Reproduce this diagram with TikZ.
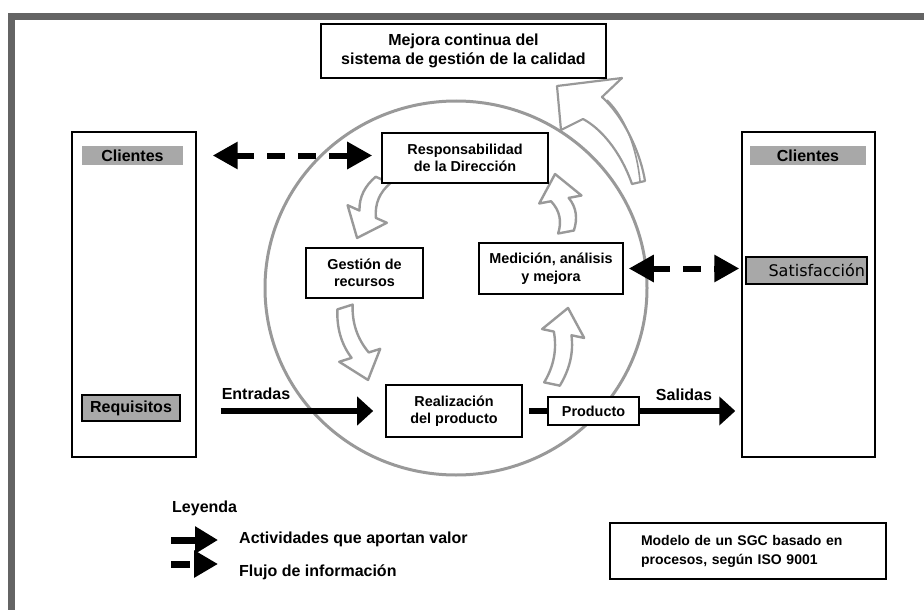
\documentclass[tikz,border=0pt]{standalone}
\usepackage{fontspec}
\setmainfont{Liberation Sans}
\newfontfamily\dejavu{DejaVu Sans}
\usetikzlibrary{arrows.meta,calc}
\definecolor{framegray}{HTML}{646464}
\definecolor{ringgray}{HTML}{999999}
\definecolor{labelgray}{HTML}{A8A8A8}

\tikzset{
  box/.style={draw=black, line width=1.6pt, fill=white, align=center,
    inner sep=0pt, font=\fontsize{14.4}{17.5}\selectfont\bfseries},
  sidebox/.style={draw=black, line width=1.4pt, fill=white, inner sep=0pt},
  tag/.style={fill=labelgray, inner sep=0pt, font=\fontsize{16}{18}\selectfont\bfseries},
  label/.style={inner sep=0pt, font=\fontsize{16}{18}\selectfont\bfseries},
  ring/.style={draw=ringgray, line width=3pt},
  loopshape/.style={draw=ringgray, line width=2.4pt, fill=white, line join=round},
  flow/.style={line width=6pt, -{Triangle[length=16pt,width=28pt]}},
  info/.style={line width=6pt, dash pattern=on 18pt off 13pt,
    {Triangle[length=25pt,width=26pt]}-{Triangle[length=25pt,width=26pt]}},
  legflow/.style={line width=7pt, -{Triangle[length=23pt,width=26pt]}},
  leginfo/.style={line width=7pt, dash pattern=on 19pt off 20pt, -{Triangle[length=24pt,width=26pt]}},
}

% curved block arrow of the improvement cycle: tail point, heading, length
\newcommand\cyclearrow[3]{%
  \begin{scope}[shift={#1}, rotate=#2]
    \pgfmathsetmacro\hh{#3-26}
    \draw[loopshape] (0,-8) .. controls ({\hh/3},-2) and ({2*\hh/3},-2) .. (\hh,-9)
      -- (\hh,-21) -- (#3,0) -- (\hh,22) -- (\hh,9)
      .. controls ({2*\hh/3},15) and ({\hh/3},14) .. (0,8) -- cycle;
  \end{scope}}

\begin{document}
\begin{tikzpicture}[x=1pt,y=-1pt]
\useasboundingbox (0,0) rectangle (924,610);

% page frame
\fill[framegray] (8,13) rectangle (924,20);
\fill[framegray] (8,13) rectangle (15,610);

% process ring
\draw[ring] (456,288) ellipse [x radius=191pt, y radius=187pt];

% continual improvement arrow leaving the ring
\draw[draw=ringgray, line width=2.2pt, line join=round]
  (632,184) .. controls (620,150) and (600,128) .. (583,119)
  -- (561,130) -- (557,86) -- (622,78) -- (602,97)
  .. controls (622,115) and (640,150) .. (645,181) -- cycle;
\draw[draw=ringgray, line width=1.6pt] (607,100) .. controls (626,118) and (637,150) .. (640,181);

% cycle arrows
\cyclearrow{(383,180)}{-114.1}{63.5}
\cyclearrow{(345,307)}{-72.5}{76.5}
\cyclearrow{(552,384)}{78.1}{77.7}
\cyclearrow{(566,232)}{100.7}{59}

% title
\node[box, font=\fontsize{16}{19}\selectfont\bfseries, minimum width=285pt, minimum height=54pt]
  (title) at (463.5,51) {Mejora continua del\\sistema de gestión de la calidad};

% customers on both sides
\node[sidebox, minimum width=124pt, minimum height=325pt] (cliL) at (134,294.5) {};
\node[sidebox, minimum width=133pt, minimum height=325pt] (cliR) at (808.5,294.5) {};
\node[tag, minimum width=101pt, minimum height=19pt] (labL) at (132.5,155.5) {Clientes};
\node[tag, minimum width=116pt, minimum height=19pt] (labR) at (808,155.5) {Clientes};
\node[tag, draw=black, line width=1.4pt, minimum width=98pt, minimum height=26pt] (req) at (131,408) {Requisitos};
\node[fill=labelgray, draw=black, line width=1.4pt, inner sep=2pt, text width=117pt, align=right,
  minimum height=27pt, font=\dejavu\fontsize{16}{18}\selectfont] (sat) at (806.5,270.5) {Satisfacción};

% processes
\node[box, minimum width=166pt, minimum height=50pt] (resp) at (465,158) {Responsabilidad\\de la Dirección};
\node[box, minimum width=117pt, minimum height=50pt] (gest) at (364.5,273) {Gestión de\\recursos};
\node[box, minimum width=144pt, minimum height=51pt] (med) at (551,268.5) {Medición, análisis\\y mejora};
\node[box, minimum width=136pt, minimum height=52pt] (real) at (454,411) {Realización\\del producto};
\node[box, minimum width=91pt, minimum height=28pt] (prod) at (593.5,411) {Producto};

% information flows
\draw[info, shorten <=16pt, shorten >=9pt] (cliL.east |- labL) -- (resp.west |- labL);
\draw[info, shorten <=5pt, shorten >=6pt] (med.east) -- (med.east -| sat.west);

% value-adding flows
\draw[flow, shorten >=12pt] ([xshift=24pt]cliL.east |- real.west) -- (real.west);
\draw[line width=6pt, shorten <=6pt] (real.east) -- (prod.west);
\draw[flow, shorten >=6pt] (prod.east) -- (prod.east -| cliR.west);
\node[label] (entradas) at (256,394) {Entradas};
\node[label] (salidas) at (684,395) {Salidas};

% legend
\node[label, anchor=west] (leg) at (172,508) {Leyenda};
\coordinate (lgA) at (171,540);
\coordinate (lgB) at (171,564);
\draw[legflow] (lgA) -- ++(47,0);
\draw[leginfo] (lgB) -- ++(47,0);
\node[label, anchor=west] (legA) at (239,539) {Actividades que aportan valor};
\node[label, anchor=west] (legB) at (239,572) {Flujo de información};

% model caption
\node[box, font=\fontsize{14}{19}\selectfont\bfseries, align=left, minimum width=276pt, minimum height=56pt,
  text width=214pt] (model) at (748,551) {Modelo de un SGC basado en\\procesos, según ISO 9001};
\end{tikzpicture}
\end{document}
